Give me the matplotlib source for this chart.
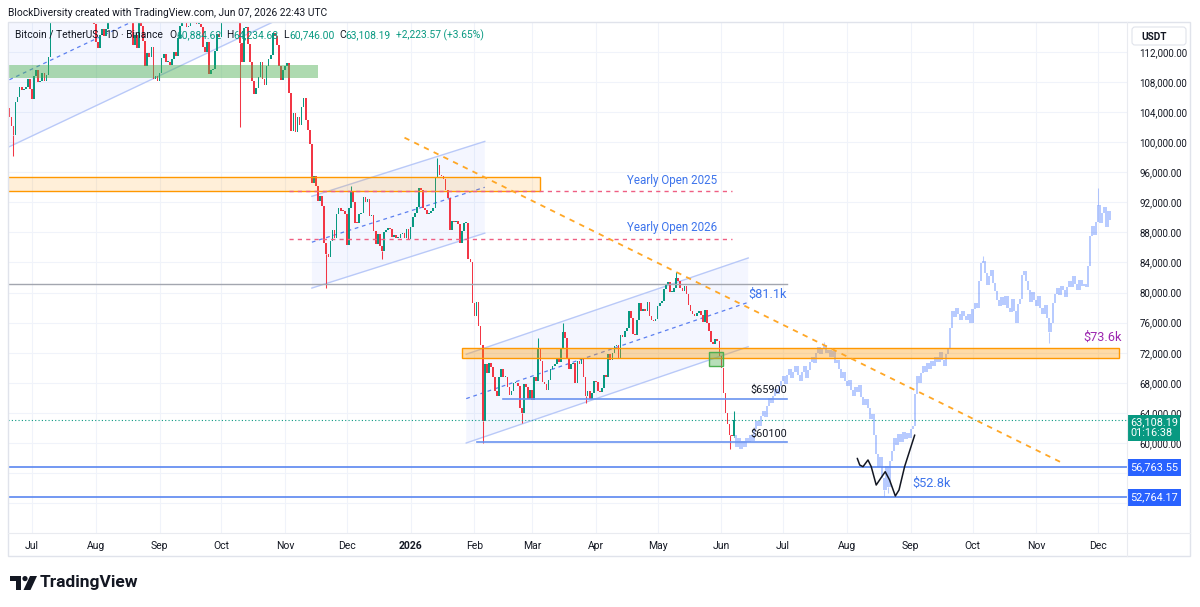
import numpy as np
import pandas as pd
import matplotlib
matplotlib.use("Agg")
import matplotlib.pyplot as plt
import matplotlib.dates as mdates
import matplotlib.transforms as mtransforms
from matplotlib.patches import Polygon, Rectangle, FancyBboxPatch, Circle

plt.rcParams['font.family'] = ['Roboto', 'DejaVu Sans']

# ---------------- data (prices in thousand USDT) ----------------
# BTC/USDT daily closes
c_2025_06 = [103.3, 102.1, 100.9, 105.4, 106.0, 107.3, 106.9, 107.1, 107.3, 108.4, 107.1]  # from Jun 20
c_2025_07 = [105.7, 108.8, 109.6, 108.0, 108.2, 109.2, 108.2, 108.9, 111.3, 115.9, 117.5, 117.4, 119.1, 119.8, 117.7, 118.8,
             119.3, 117.9, 117.3, 117.4, 116.9, 119.9, 118.8, 118.4, 117.6, 117.9, 119.4, 118.0, 117.9, 117.8, 115.7]
c_2025_08 = [113.3, 112.5, 114.2, 115.0, 114.1, 115.0, 117.5, 116.7, 116.5, 119.3, 118.7, 120.2, 123.3, 118.3, 117.4, 117.5,
             117.4, 116.3, 112.9, 114.3, 112.5, 116.9, 115.4, 113.5, 110.1, 111.8, 111.3, 112.6, 108.4, 108.8, 108.2]
c_2025_09 = [109.2, 111.2, 111.7, 110.7, 110.7, 110.2, 111.1, 112.0, 111.5, 113.9, 115.5, 116.0, 115.9, 115.3, 115.4, 116.8,
             116.4, 117.1, 115.7, 115.7, 115.3, 112.7, 112.0, 113.3, 109.0, 109.6, 109.7, 112.1, 114.4, 114.0]
c_2025_10 = [118.6, 120.6, 122.2, 122.4, 123.5, 124.7, 121.4, 123.3, 121.6, 113.2, 110.6, 115.2, 115.3, 113.0, 110.7, 108.2,
             106.4, 107.2, 108.6, 110.6, 108.4, 107.6, 110.1, 111.0, 111.6, 114.5, 114.1, 112.9, 110.1, 108.3, 109.6]
c_2025_11 = [110.1, 110.5, 106.5, 101.5, 103.9, 101.3, 103.4, 102.3, 104.7, 105.9, 103.0, 101.6, 99.7, 94.6, 95.5, 94.2,
             92.2, 92.9, 91.5, 86.6, 85.1, 84.7, 86.8, 88.3, 87.3, 90.5, 91.3, 90.9, 90.8, 90.4]
c_2025_12 = [86.3, 91.3, 93.5, 92.1, 89.3, 89.2, 90.4, 90.6, 92.7, 92.0, 92.5, 90.2, 90.3, 88.2, 86.4, 87.8,
             86.2, 85.5, 88.1, 88.3, 88.6, 88.5, 87.4, 87.6, 87.2, 87.3, 87.8, 87.9, 87.2, 88.4, 87.15]
c_2026_01 = [88.7, 90.0, 90.6, 91.4, 93.9, 93.7, 91.3, 91.0, 90.5, 90.6, 90.8, 91.2, 95.4, 97.0, 95.6, 95.5,
             95.1, 93.6, 92.6, 88.3, 89.5, 89.4, 89.5, 89.1, 86.6, 88.2, 89.2, 89.2, 84.5, 84.1, 78.6]
c_2026_02 = [76.9, 78.7, 75.6, 73.0, 62.9, 70.5, 69.3, 70.6, 70.1, 68.8, 66.9, 66.2, 68.8, 69.8, 68.8, 68.8,
             67.5, 66.4, 66.9, 68.0, 68.0, 67.6, 64.6, 64.0, 67.9, 67.4, 65.9, 67.0]
c_2026_03 = [65.7, 68.8, 68.3, 72.6, 70.9, 68.1, 67.9, 67.1, 68.4, 69.9, 70.3, 70.5, 71.2, 70.8, 72.6, 74.8,
             74.0, 71.2, 69.9, 70.5, 70.6, 68.0, 70.9, 70.5, 71.3, 68.8, 66.3, 66.9, 65.9, 66.7, 68.2]
c_2026_04 = [68.1, 66.9, 66.8, 67.3, 69.0, 68.8, 71.8, 71.0, 72.0, 72.9, 73.0, 71.3, 74.4, 74.1, 74.9, 75.3,
             77.6, 76.6, 74.5, 74.3, 76.4, 78.6, 77.6, 77.8, 77.5, 78.8, 76.9, 76.3, 76.2, 76.5]
c_2026_05 = [78.2, 78.6, 78.9, 80.5, 81.2, 81.4, 80.1, 80.1, 80.6, 82.0, 81.5, 80.6, 80.2, 80.9, 79.8, 78.3,
             77.5, 77.2, 76.9, 77.3, 77.6, 77.0, 76.1, 77.7, 75.9, 74.9, 73.4, 73.2, 73.8, 73.5, 71.6]
c_2026_06 = [70.0, 66.6, 64.0, 62.5, 61.1, 60.88462, 63.10819]
real_first_open = 104.6
real_months = [("2025-06-20", c_2025_06), ("2025-07-01", c_2025_07), ("2025-08-01", c_2025_08),
               ("2025-09-01", c_2025_09), ("2025-10-01", c_2025_10), ("2025-11-01", c_2025_11),
               ("2025-12-01", c_2025_12), ("2026-01-01", c_2026_01), ("2026-02-01", c_2026_02),
               ("2026-03-01", c_2026_03), ("2026-04-01", c_2026_04), ("2026-05-01", c_2026_05),
               ("2026-06-01", c_2026_06)]
real_high = {"2025-10-06": 126.2, "2025-12-03": 94.2, "2026-01-14": 97.9, "2026-03-04": 74.0,
             "2026-03-16": 76.0, "2026-05-10": 82.8, "2026-06-07": 64.23468}
real_low = {"2025-06-22": 98.2, "2025-10-10": 102.0, "2025-11-21": 80.6, "2025-12-18": 84.5,
            "2026-02-05": 60.0, "2026-02-24": 62.7, "2026-03-27": 65.3, "2026-06-05": 59.2,
            "2026-06-07": 60.746}

# projected (ghost) bars
g_2026_06 = [59.5, 60.6, 59.2, 60.2, 59.4, 60.6, 60.1, 61.0, 60.3, 61.8, 62.9, 62.2, 63.6, 64.3, 63.5, 64.9,
             66.0, 65.3, 66.2, 67.2, 66.5, 67.6, 68.2]  # from Jun 8
g_2026_07 = [68.9, 67.8, 69.0, 69.8, 68.6, 69.5, 70.3, 69.1, 68.2, 69.4, 70.2, 68.7, 69.7, 70.8, 71.4, 70.6,
             71.9, 72.7, 71.8, 72.5, 73.0, 71.9, 72.4, 71.5, 72.2, 70.6, 71.0, 69.8, 68.6, 69.5, 68.3]
g_2026_08 = [67.6, 68.4, 67.0, 66.3, 67.5, 66.8, 67.7, 66.1, 65.0, 65.8, 64.6, 63.2, 63.9, 61.0, 58.5, 56.8,
             58.2, 55.4, 53.8, 56.9, 54.2, 57.6, 58.9, 60.6, 59.7, 61.2, 60.1, 61.5, 60.5, 61.3, 60.7]
g_2026_09 = [61.9, 62.3, 66.5, 68.9, 68.0, 69.3, 70.2, 69.5, 70.6, 69.8, 70.9, 70.3, 71.5, 70.8, 72.1, 71.0,
             70.2, 71.8, 72.6, 75.3, 77.5, 76.8, 77.9, 77.1, 76.4, 77.6, 76.9, 76.3, 77.2, 76.0]
g_2026_10 = [77.8, 78.6, 78.0, 81.5, 83.9, 84.2, 82.6, 81.0, 82.2, 83.0, 81.3, 80.2, 79.0, 78.2, 79.4, 78.4,
             79.6, 78.0, 77.4, 79.1, 77.6, 76.0, 78.5, 79.2, 82.4, 82.9, 81.5, 80.3, 78.8, 80.1, 79.0]
g_2026_11 = [78.2, 79.6, 78.0, 77.2, 78.4, 76.6, 74.8, 75.9, 78.6, 79.8, 80.6, 79.7, 80.9, 80.3, 79.4, 80.7,
             81.6, 80.8, 82.2, 81.1, 80.4, 81.7, 80.9, 81.2, 80.7, 83.5, 87.5, 88.9, 87.6, 89.4]
g_2026_12 = [91.6, 89.2, 90.6, 91.4, 88.7, 90.8, 89.6]
ghost_first_open = 61.0
ghost_months = [("2026-06-08", g_2026_06), ("2026-07-01", g_2026_07), ("2026-08-01", g_2026_08),
                ("2026-09-01", g_2026_09), ("2026-10-01", g_2026_10), ("2026-11-01", g_2026_11),
                ("2026-12-01", g_2026_12)]
ghost_high = {"2026-07-21": 73.4, "2026-10-06": 84.8, "2026-12-01": 93.9}
ghost_low = {"2026-08-19": 52.9, "2026-08-21": 53.3, "2026-11-07": 73.3}

# drawings: (start date, price), (end date, price), half width
channels = [(("2025-06-20", 99.4), ("2025-11-03", 117.0), 8.9),
            (("2025-11-14", 80.6), ("2026-02-06", 87.9), 6.1),
            (("2026-01-28", 60.0), ("2026-06-14", 72.8), 5.9)]
trend_line = [("2025-12-29", 100.6), ("2026-11-14", 57.3)]
zones = [("2025-06-19", "2026-03-05", 93.5, 95.4, "orange_light"),
         ("2026-01-26", "2026-12-11", 71.3, 72.6, "orange"),
         ("2025-06-20", "2025-11-17", 108.5, 110.3, "green"),
         ("2026-05-26", "2026-06-02", 70.2, 72.1, "green_box")]
yearly_open_2025 = 93.5
yearly_open_2026 = 87.15
level_81k = 81.1
level_65900 = 65.9
level_60100 = 60.1
level_56763 = 56.76355
level_52764 = 52.76417
last_price = 63.10819
sketch_dates = ["2026-08-06 00:00", "2026-08-07 05:00", "2026-08-08 19:00", "2026-08-11 05:00", "2026-08-12 19:00",
                "2026-08-15 05:00", "2026-08-17 10:00", "2026-08-19 14:00", "2026-08-21 17:00", "2026-08-24 12:00",
                "2026-08-26 07:00", "2026-08-29 00:00", "2026-09-02 22:00"]
sketch_price = [57.96, 57.07, 56.85, 57.74, 56.85, 54.41, 55.31, 56.18, 55.08, 52.95, 53.75, 56.85, 61.06]

price_ticks = np.arange(60, 113, 4)
month_ticks = pd.date_range("2025-07-01", "2026-12-01", freq="MS")

UP, DOWN = "#089981", "#f23645"
TXT = "#131722"


def build(months, first_open, highs, lows):
    d = pd.DatetimeIndex(np.concatenate([pd.date_range(s, periods=len(v)).values for s, v in months]))
    c = np.concatenate([np.array(v, float) for _, v in months])
    o = np.concatenate([[first_open], c[:-1]])
    h = np.maximum(o, c)
    l = np.minimum(o, c)
    for k, v in highs.items():
        h[d.get_loc(pd.Timestamp(k))] = v
    for k, v in lows.items():
        l[d.get_loc(pd.Timestamp(k))] = v
    return mdates.date2num(d), o, h, l, c


def draw_candles(ax, x, o, h, l, c, up, down, alpha=1.0, z=3, width=0.8):
    col = np.where(c >= o, up, down)
    top = np.maximum(o, c)
    bot = np.minimum(o, c)
    ax.vlines(x, top, h, colors=col, lw=0.75, alpha=alpha, zorder=z)
    ax.vlines(x, l, bot, colors=col, lw=0.75, alpha=alpha, zorder=z)
    ax.bar(x, np.maximum(top - bot, 0.14), bottom=bot, width=width, color=col,
           alpha=alpha, lw=0, zorder=z)


def dn(s):
    return mdates.date2num(pd.Timestamp(s))


W, H = 1200, 607
fig = plt.figure(figsize=(W / 100, H / 100), dpi=100)
fig.patch.set_facecolor("white")
PL, PR, PT, PB = 8, 1127, 22, 533
ax = fig.add_axes([PL / W, 1 - PB / H, (PR - PL) / W, (PB - PT) / H])

base = pd.Timestamp("2025-07-01")
ax.set_xlim(mdates.date2num(base + pd.Timedelta(days=-11.66)), mdates.date2num(base + pd.Timedelta(days=532.07)))
ax.set_ylim(48.03, 115.98)
for s in ax.spines.values():
    s.set_visible(False)

ax.set_yticks(price_ticks)
ax.set_yticklabels([f"{v * 1000:,.2f}" for v in price_ticks])
ax.yaxis.tick_right()
ax.tick_params(axis="y", length=0, pad=9.0, labelsize=7, labelcolor=TXT)
ax.set_xticks(mdates.date2num(month_ticks))
ax.set_xticklabels([str(m.year) if m.month == 1 else m.strftime("%b") for m in month_ticks])
ax.tick_params(axis="x", length=0, pad=6, labelsize=7.5, labelcolor=TXT)
for t in ax.get_xticklabels():
    if t.get_text().isdigit():
        t.set_fontweight("bold")
# faint grid rows also where the covered axis labels sit
for p in (52, 56):
    ax.axhline(p, color="#f0f3fa", lw=0.8, zorder=0)
ax.grid(True, color="#f0f3fa", lw=0.8, zorder=0)
ax.set_axisbelow(True)

# channels
for (s0, p0), (s1, p1), w in channels:
    x0, x1 = dn(s0), dn(s1)
    ax.add_patch(Polygon([(x0, p0), (x1, p1), (x1, p1 + 2 * w), (x0, p0 + 2 * w)],
                         closed=True, fc="#2962ff", alpha=0.05, lw=0, zorder=1))
    ax.plot([x0, x1], [p0, p1], color="#b9c9f8", lw=1.0, zorder=2)
    ax.plot([x0, x1], [p0 + 2 * w, p1 + 2 * w], color="#b9c9f8", lw=1.0, zorder=2)
    ax.plot([x0, x1], [p0 + w, p1 + w], color="#5b7ff0", lw=0.9, dashes=(3, 3), zorder=2)

# candles
rx, ro, rh, rl, rc = build(real_months, real_first_open, real_high, real_low)
draw_candles(ax, rx, ro, rh, rl, rc, UP, DOWN, 1.0, 3, 0.8)
gx, go, gh, gl, gc = build(ghost_months, ghost_first_open, ghost_high, ghost_low)
draw_candles(ax, gx, go, gh, gl, gc, "#2962ff", "#2962ff", 0.33, 3, 1.0)

# zones
zone_style = {"orange_light": dict(fc="#ff9800", alpha=0.15, ec="#ff9800"),
              "orange": dict(fc="#ff9800", alpha=0.35, ec="#ff9800"),
              "green": dict(fc="#4caf50", alpha=0.45, ec="none"),
              "green_box": dict(fc="#4caf50", alpha=0.4, ec="#4caf50")}
for s0, s1, lo, hi, kind in zones:
    st = zone_style[kind]
    x0, x1 = dn(s0), dn(s1)
    ax.add_patch(Rectangle((x0, lo), x1 - x0, hi - lo, fc=st["fc"], alpha=st["alpha"], lw=0, zorder=4))
    if st["ec"] != "none":
        ax.add_patch(Rectangle((x0, lo), x1 - x0, hi - lo, fill=False, ec=st["ec"], lw=1.0, zorder=4))

# horizontal levels
yo_color = "#ef5f83"
ax.plot([dn("2025-11-03"), dn("2026-06-06")], [yearly_open_2025] * 2, color=yo_color, lw=1, dashes=(3, 3), zorder=5)
ax.plot([dn("2025-11-03"), dn("2026-06-06")], [yearly_open_2026] * 2, color=yo_color, lw=1, dashes=(3, 3), zorder=5)
ax.plot([dn("2025-06-20"), dn("2026-07-03")], [level_81k] * 2, color="#a3a6af", lw=1, zorder=5)
ax.plot([dn("2026-02-15"), dn("2026-07-03")], [level_65900] * 2, color="#6a93f0", lw=1.2, zorder=5)
ax.plot([dn("2026-02-02"), dn("2026-07-03")], [level_60100] * 2, color="#6a93f0", lw=1.2, zorder=5)
ax.axhline(level_56763, color="#5a86f0", lw=1.2, zorder=5)
ax.axhline(level_52764, color="#5a86f0", lw=1.2, zorder=5)
ax.axhline(last_price, color=UP, lw=0.8, dashes=(1, 2), zorder=5)

# trend line and sketch
(t0, q0), (t1, q1) = trend_line
ax.plot([dn(t0), dn(t1)], [q0, q1], color="#ffa726", lw=1.3, dashes=(3, 3), zorder=5)
ax.plot([dn(s) for s in sketch_dates], sketch_price, color="#131722", lw=1.1, zorder=6,
        solid_capstyle="round", solid_joinstyle="round")

# labels on the chart
BLUE_T = "#3d74ec"
ax.text(dn("2026-05-30"), 94.84, "Yearly Open 2025", color=BLUE_T, fontsize=8.4, ha="right", va="center", zorder=7)
ax.text(dn("2026-05-30"), 88.59, "Yearly Open 2026", color=BLUE_T, fontsize=8.4, ha="right", va="center", zorder=7)
ax.text(dn("2026-06-14"), 79.8, "$81.1k", color=BLUE_T, fontsize=9.2, ha="left", va="center", zorder=7)
ax.text(dn("2026-06-15"), 67.05, "$65900", color=TXT, fontsize=7.8, ha="left", va="center", zorder=7)
ax.text(dn("2026-06-15"), 61.2, "$60100", color=TXT, fontsize=7.8, ha="left", va="center", zorder=7)
ax.text(dn("2026-09-02"), 54.7, "$52.8k", color=BLUE_T, fontsize=9.2, ha="left", va="center", zorder=7)
ax.text(dn("2026-11-24"), 74.0, "$73.6k", color="#9c27b0", fontsize=9.2, ha="left", va="center", zorder=7)

# price labels on the axis
bt = mtransforms.blended_transform_factory(ax.transAxes, ax.transData)
xlab = 1 + 3 / (PR - PL)
for lvl in (level_56763, level_52764):
    ax.text(xlab, lvl, f"{lvl * 1000:,.2f}", transform=bt, color="white", fontsize=7.8, ha="left", va="center",
            clip_on=False, zorder=10,
            bbox=dict(boxstyle="square,pad=0.3", fc="#2962ff", ec="none"))
ax.text(xlab, last_price - 1.1, f"{last_price * 1000:,.2f}\n01:16:38", transform=bt, color="white", fontsize=7.8,
        ha="left", va="center", linespacing=1.15, clip_on=False, zorder=10,
        bbox=dict(boxstyle="square,pad=0.22", fc=UP, ec="none"))

# overlay in pixel units for frame, header and logo
ov = fig.add_axes([0, 0, 1, 1])
ov.set_xlim(0, W)
ov.set_ylim(H, 0)
ov.axis("off")
ov.patch.set_alpha(0)
ov.add_patch(Rectangle((8, 22), 1182, 534, fill=False, ec="#e0e3eb", lw=1))
ov.plot([PR, PR], [22, 556], color="#e9ebf0", lw=0.8)
ov.plot([8, 1190], [PB, PB], color="#e9ebf0", lw=0.8)
ov.add_patch(FancyBboxPatch((1132, 27), 54, 18, boxstyle="round,pad=0,rounding_size=3", fc="white",
                            ec="#e0e3eb", lw=0.8))
ov.text(1141, 36.5, "USDT", fontsize=7.2, color=TXT, va="center", ha="left", fontweight="bold")

ov.text(8, 13, "BlockDiversity created with TradingView.com, Jun 07, 2026 22:43 UTC", fontsize=7.4, color=TXT,
        va="center", ha="left")

renderer = fig.canvas.get_renderer()
parts = [("Bitcoin / TetherUS · 1D · Binance", TXT, 6), ("O", TXT, 0), ("60,884.62", UP, 5),
         ("H", TXT, 0), ("64,234.68", UP, 5), ("L", TXT, 0), ("60,746.00", UP, 5),
         ("C", TXT, 0), ("63,108.19", UP, 5), ("+2,223.57 (+3.65%)", UP, 0)]
xx = 15
for s, col, gap in parts:
    t = ov.text(xx, 35, s, fontsize=7.4, color=col, va="center", ha="left", zorder=20)
    xx += t.get_window_extent(renderer=renderer).width + gap

# TradingView logo
ov.add_patch(Polygon([(10, 576), (21, 576), (21, 590), (16, 590), (16, 581), (10, 581)], closed=True, fc=TXT, lw=0))
ov.add_patch(Circle((25, 578.6), 2.6, fc=TXT, lw=0))
ov.add_patch(Polygon([(30, 576), (37, 576), (30.5, 590), (23.5, 590)], closed=True, fc=TXT, lw=0))
ov.text(40, 583, "TradingView", fontsize=12.5, fontweight="bold", color=TXT, va="center", ha="left")

fig.savefig("out.png", dpi=100, facecolor="white")
